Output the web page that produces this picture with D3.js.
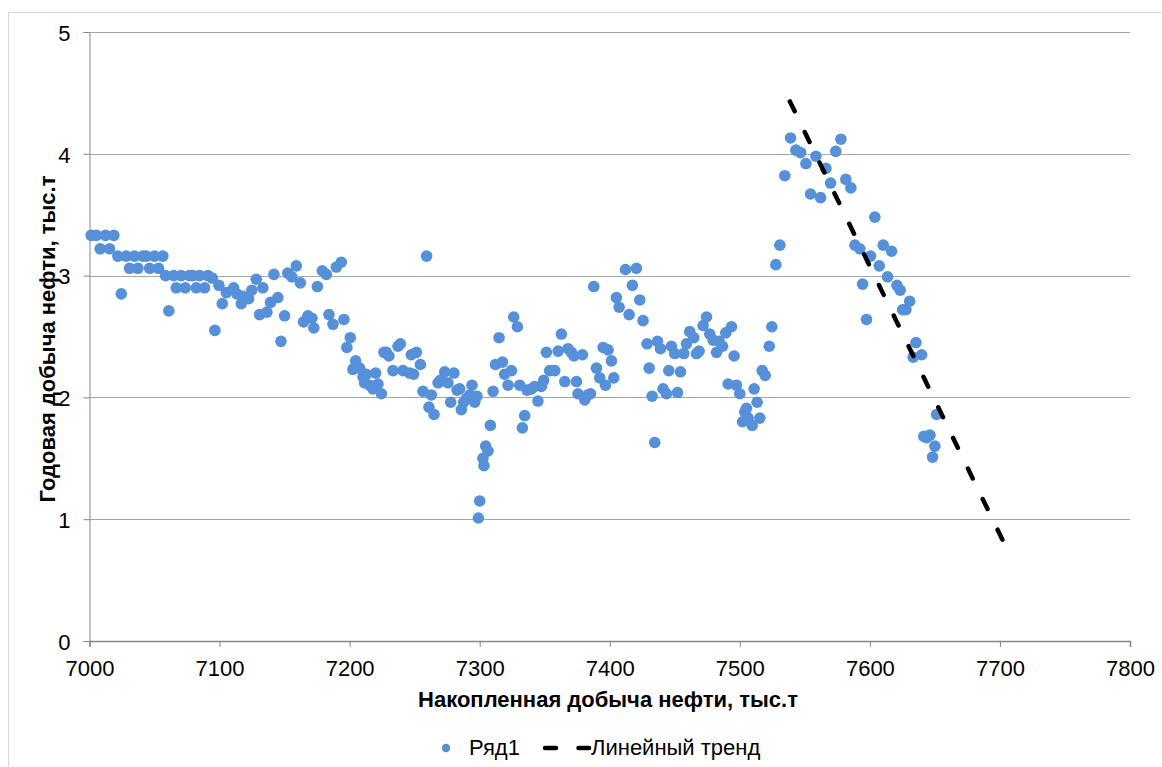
<!DOCTYPE html>
<html><head><meta charset="utf-8">
<script src="https://cdn.jsdelivr.net/npm/d3@7"></script>
<style>body{margin:0;background:#fff;} svg{display:block;font-family:"Liberation Sans",Arial,sans-serif;}</style>
</head><body>
<svg id="c" width="1162" height="767"></svg>
<script>
const cumOil = [7001.3,7005.2,7008.2,7012.3,7015.4,7018.7,7021.8,7024.4,7028.2,7030.8,7034.6,7037.2,7041.0,7043.6,7046.2,7050.0,7053.1,7056.4,7058.5,7061.0,7064.8,7066.7,7070.5,7073.6,7076.9,7079.5,7082.1,7084.6,7088.5,7091.0,7094.4,7096.4,7099.5,7102.1,7105.2,7110.8,7113.3,7116.7,7118.0,7122.3,7124.8,7128.2,7130.8,7133.3,7136.4,7139.2,7141.8,7144.8,7147.2,7150.0,7152.5,7155.6,7159.0,7162.1,7164.6,7167.9,7171.0,7172.5,7175.2,7179.0,7182.1,7184.1,7187.2,7189.8,7193.6,7195.6,7197.9,7200.5,7202.5,7204.6,7207.7,7210.3,7211.5,7212.8,7215.4,7217.9,7220.0,7221.8,7224.4,7226.4,7228.2,7230.2,7233.3,7237.2,7239.0,7241.0,7246.2,7247.4,7249.2,7251.3,7254.4,7256.4,7259.2,7261.0,7262.8,7264.9,7268.0,7269.8,7273.1,7275.6,7277.7,7280.2,7282.6,7284.6,7285.9,7287.7,7289.8,7292.3,7294.1,7296.2,7297.9,7299.0,7300.0,7302.5,7303.3,7304.6,7306.4,7308.2,7310.3,7312.1,7314.9,7317.5,7319.2,7321.8,7324.4,7326.2,7329.0,7330.8,7332.8,7334.6,7336.4,7339.8,7342.3,7344.8,7347.4,7349.2,7351.3,7353.8,7357.7,7360.3,7362.8,7365.4,7367.9,7370.5,7372.5,7374.4,7375.6,7379.0,7380.8,7383.3,7385.2,7387.7,7389.8,7392.3,7394.9,7396.7,7398.7,7401.3,7403.1,7405.1,7407.2,7412.1,7414.9,7417.4,7420.5,7423.1,7425.6,7428.7,7430.3,7432.6,7434.6,7436.7,7439.0,7441.0,7443.6,7445.4,7447.4,7450.0,7452.1,7454.4,7456.9,7459.0,7461.5,7464.6,7466.7,7468.7,7471.8,7474.4,7476.9,7479.5,7482.1,7484.1,7486.7,7489.2,7491.0,7493.6,7495.6,7497.4,7500.0,7502.1,7503.8,7505.1,7506.4,7509.5,7511.0,7513.3,7515.4,7517.2,7519.5,7522.6,7524.6,7527.7,7530.8,7534.6,7539.0,7543.1,7546.7,7550.8,7554.4,7558.5,7562.1,7566.2,7569.8,7573.8,7577.7,7581.5,7585.4,7588.5,7592.3,7594.4,7597.4,7600.5,7603.8,7607.2,7610.3,7613.6,7616.7,7620.8,7623.3,7625.2,7627.7,7630.6,7633.3,7635.4,7639.8,7641.5,7643.6,7646.2,7648.2,7650.0,7651.3];
const annualOil = [3.33,3.33,3.22,3.33,3.22,3.33,3.16,2.85,3.16,3.06,3.16,3.06,3.16,3.16,3.06,3.16,3.06,3.16,3.00,2.71,3.00,2.90,3.00,2.90,3.00,3.00,2.90,3.00,2.90,3.00,2.98,2.55,2.92,2.77,2.86,2.90,2.85,2.77,2.83,2.81,2.88,2.97,2.68,2.90,2.70,2.78,3.01,2.82,2.46,2.67,3.02,2.99,3.08,2.94,2.62,2.67,2.65,2.57,2.91,3.04,3.01,2.68,2.60,3.07,3.11,2.64,2.41,2.49,2.23,2.30,2.24,2.17,2.12,2.19,2.10,2.07,2.20,2.11,2.03,2.37,2.37,2.34,2.22,2.42,2.44,2.22,2.20,2.35,2.19,2.37,2.27,2.05,3.16,1.92,2.02,1.86,2.12,2.14,2.21,2.12,1.96,2.20,2.06,2.07,1.90,1.96,1.99,2.02,2.10,1.96,2.01,1.01,1.15,1.50,1.44,1.60,1.56,1.77,2.05,2.27,2.49,2.29,2.19,2.10,2.22,2.66,2.58,2.10,1.75,1.85,2.06,2.07,2.09,1.97,2.09,2.14,2.37,2.22,2.22,2.38,2.52,2.13,2.40,2.37,2.34,2.13,2.03,2.35,1.98,2.02,2.03,2.91,2.24,2.16,2.41,2.10,2.39,2.30,2.16,2.82,2.74,3.05,2.68,2.92,3.06,2.80,2.63,2.44,2.24,2.01,1.63,2.46,2.40,2.07,2.03,2.22,2.42,2.36,2.04,2.21,2.36,2.44,2.54,2.49,2.36,2.38,2.59,2.66,2.52,2.47,2.37,2.46,2.42,2.53,2.11,2.58,2.34,2.10,2.03,1.80,1.88,1.91,1.83,1.77,2.07,1.96,1.83,2.22,2.18,2.42,2.58,3.09,3.25,3.82,4.13,4.03,4.01,3.92,3.67,3.98,3.64,3.88,3.76,4.02,4.12,3.79,3.72,3.25,3.22,2.93,2.64,3.16,3.48,3.08,3.25,2.99,3.20,2.92,2.88,2.72,2.72,2.79,2.33,2.45,2.35,1.68,1.67,1.69,1.51,1.60,1.86];
const trendX = [7538.5, 7702];
const trendY = [4.43, 0.83];
const xTicks = [7000,7100,7200,7300,7400,7500,7600,7700,7800];
const yTicks = [0,1,2,3,4,5];
const xTitle = "Накопленная добыча нефти, тыс.т";
const yTitle = "Годовая добыча нефти, тыс.т";
const seriesName = "Ряд1";
const trendName = "Линейный тренд";

const svg = d3.select("#c");
const L = 89.5, R = 1130, T = 32, B = 641;
const x = d3.scaleLinear().domain([7000,7800]).range([L,R]);
const y = d3.scaleLinear().domain([0,5]).range([B,T]);
const dotColor = "#5590D8";
const FS = 22;

// outer frame
svg.append("rect").attr("x",8.5).attr("y",12.5).attr("width",1160).attr("height",760)
  .attr("fill","none").attr("stroke","#d9d9d9").attr("stroke-width",1);

// gridlines
svg.append("g").selectAll("line").data(yTicks.filter(d=>d>0)).join("line")
  .attr("x1",L).attr("x2",R).attr("y1",d=>Math.round(y(d))+0.5).attr("y2",d=>Math.round(y(d))+0.5)
  .attr("stroke","#a6a6a6").attr("stroke-width",1);

// y axis
const ya = svg.append("g").attr("transform",`translate(${L},0)`)
  .call(d3.axisLeft(y).tickValues(yTicks).tickSize(6).tickPadding(13).tickFormat(d3.format("d")));
ya.select(".domain").attr("stroke","#868686");
ya.selectAll(".tick line").attr("stroke","#868686");
ya.selectAll(".tick text").attr("font-size",FS).attr("dy","0.38em").attr("fill","#000").attr("font-family","Liberation Sans, Arial, sans-serif");

// x axis
const xa = svg.append("g").attr("transform",`translate(0,${B})`)
  .call(d3.axisBottom(x).tickValues(xTicks).tickSize(6).tickPadding(13).tickFormat(d3.format("d")));
xa.select(".domain").attr("stroke","#868686").attr("stroke-width",1.5);
xa.selectAll(".tick line").attr("stroke","#868686");
xa.selectAll(".tick text").attr("font-size",FS).attr("fill","#000").attr("font-family","Liberation Sans, Arial, sans-serif");

// points
const pts = cumOil.map((v,i)=>({x:v,y:annualOil[i]}));
svg.append("g").selectAll("circle").data(pts).join("circle")
  .attr("cx",d=>x(d.x)).attr("cy",d=>y(d.y)).attr("r",5.8).attr("fill",dotColor);

// trend line
const trend = trendX.map((v,i)=>({x:v,y:trendY[i]}));
svg.append("path").datum(trend)
  .attr("d",d3.line().x(d=>x(d.x)).y(d=>y(d.y)))
  .attr("fill","none").attr("stroke","#000").attr("stroke-width",4.5)
  .attr("stroke-dasharray","11,23").attr("stroke-linecap","round");

// titles
svg.append("text").attr("x",608).attr("y",707).attr("text-anchor","middle")
  .attr("font-size",FS).attr("font-weight","bold").text(xTitle);
svg.append("text").attr("transform",`translate(55,339) rotate(-90)`).attr("text-anchor","middle")
  .attr("font-size",FS).attr("font-weight","bold").text(yTitle);

// legend
const lg = svg.append("g");
lg.append("circle").attr("cx",446).attr("cy",748).attr("r",4.2).attr("fill",dotColor);
lg.append("text").attr("x",469).attr("y",755).attr("font-size",FS).text(seriesName);
lg.append("line").attr("x1",545).attr("x2",589).attr("y1",748).attr("y2",748)
  .attr("stroke","#000").attr("stroke-width",4.5).attr("stroke-dasharray","11,22.5").attr("stroke-linecap","round");
lg.append("text").attr("x",591).attr("y",755).attr("font-size",FS).text(trendName);
</script>
</body></html>
